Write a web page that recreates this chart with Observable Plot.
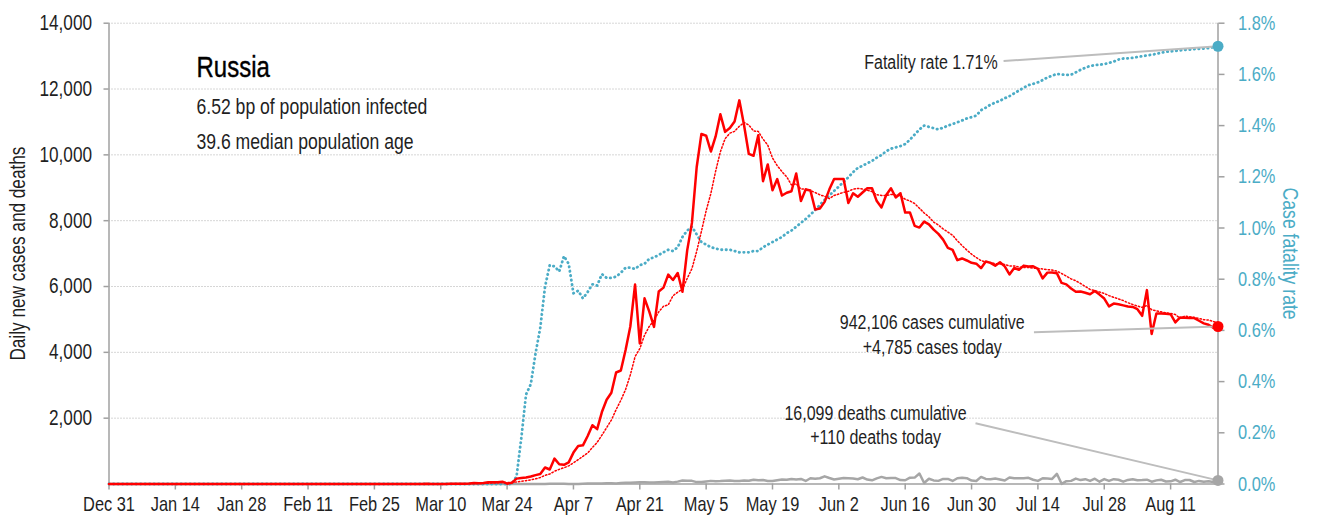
<!DOCTYPE html>
<html>
<head>
<meta charset="utf-8">
<script src="https://cdn.jsdelivr.net/npm/d3@7"></script>
<script src="https://cdn.jsdelivr.net/npm/@observablehq/plot@0.6"></script>
<style>
  html, body { margin: 0; padding: 0; background: #fff; }
  #chart svg { display: block; }
</style>
</head>
<body>
<div id="chart"></div>
<script>
// ---------- data (daily, starting 2019-12-31) ----------
const startDate = "2019-12-31";
const endDate = "2020-08-21";

const cases = [
  0,0,0,0,0,0,0,0,0,0, 0,0,0,0,0,0,0,0,0,0, 0,0,0,0,0,0,0,0,0,0,
  0,0,2,0,0,0,0,0,0,0, 0,0,0,0,0,0,0,0,0,0, 0,0,0,0,0,0,0,0,0,0, 0,
  0,0,1,0,0,1,6,0,3,0,
  3,8,6,6,11,18,30,21,33,52,
  54,53,71,10,40,
  163,182,196,228,270,302,501,440,771,601,
  582,658,954,1154,1175,1459,1786,1667,2186,2558,
  2774,3388,3448,4070,4785,6060,4268,
  5642,5236,4774,5849,5966,6361,6198,6411,5841,7099,
  7933,9623,10633,10581,10102,10559,11231,10699,10817,11012,
  11656,10899,10028,9974,10598,9200,9709,8926,9263,8764,
  8849,8894,9434,8599,8946,8915,8338,8371,8572,8952,
  9268,9268,9268,8536,8831,8726,8855,8984,8985,8595,
  8404,8779,8987,8706,8835,8246,8248,7843,7790,7972,
  7889,7728,7600,7425,7176,7113,6800,6852,6791,6719,
  6693,6556,6760,6718,6632,6736,6611,6368,6562,6509,
  6635,6611,6615,6537,6248,6422,6428,6406,6109,6065,
  5940,5842,5848,5811,5765,5862,5754,5635,5395,5482,
  5462,5427,5394,5380,5310,5110,5890,4560,5180,5180,
  5170,5160,4910,5060,5050,5040,5040,4960,4880,4840,
  4750,4785
];

const deaths = [
  0,0,0,0,0,0,0,0,0,0, 0,0,0,0,0,0,0,0,0,0, 0,0,0,0,0,0,0,0,0,0, 0,0,0,0,0,0,0,0,0,0,
  0,0,0,0,0,0,0,0,0,0, 0,0,0,0,0,0,0,0,0,0, 0,0,0,0,0,0,0,0,0,0, 0,0,0,0,0,0,0,0,0,0,
  1, 0,0,0,0,0,
  1,1,1,0,1, 3,2,8,4,4, 4,2,2,2,11, 13,13,18,12,22, 24,18,28,36,41,
  48,51,51,45,42, 50,60,66,47,72, 108,101,96,57,58, 76,95,86,88,98, 104,88,94,107,96,
  128,113,119,94,91, 115,135,127,150,139, 153,92,174,161,174, 232,181,138,162,182,
  178,169,144,197,134, 112,171,216,174,183, 181,119,113,193,194, 320,30,161,109,95,
  153,154,92,176,188, 176,104,93,216,154, 147,168,135,104,198, 173,175,174,188,130,
  95,175,165,154,310, 5,85,95,165,119, 147,95,161,70,150, 95,147,129,70,124,
  144,114,119,130,70, 110,129,77,80,130, 60,118,121,60,94, 68,85,60,110
];

// case fatality rate, percent
const cfr = [
  0,0,0,0,0,0,0,0,0,0, 0,0,0,0,0,0,0,0,0,0, 0,0,0,0,0,0,0,0,0,0, 0,0,0,0,0,0,0,0,0,0,
  0,0,0,0,0,0,0,0,0,0, 0,0,0,0,0,0,0,0,0,0, 0,0,0,0,0,0,0,0,0,0, 0,0,0,0,0,0,0,0,0,0,
  0,0,0,0,0,0,
  0.03,0.18,0.35,0.39,0.51,0.61,0.77,0.855,0.85,0.83,
  0.89,0.86,0.745,0.755,0.725,0.75,0.78,0.775,0.82,0.805,
  0.805,0.81,0.825,0.845,0.845,0.84,0.855,0.86,0.88,0.885,
  0.895,0.905,0.915,0.91,0.925,0.965,0.99,1.005,0.975,0.945,
  0.935,0.925,0.92,0.915,0.915,0.915,0.91,0.905,0.905,0.905,
  0.91,0.91,0.925,0.935,0.945,0.955,0.965,0.98,0.99,1.005,
  1.02,1.035,1.052,1.07,1.09,1.11,1.127,1.145,1.162,1.18,
  1.198,1.218,1.235,1.243,1.253,1.262,1.275,1.285,1.3,1.31,
  1.315,1.32,1.328,1.345,1.365,1.385,1.4,1.395,1.39,1.385,
  1.392,1.4,1.406,1.413,1.42,1.428,1.433,1.439,1.46,1.47,
  1.482,1.49,1.497,1.507,1.515,1.526,1.537,1.548,1.558,1.563,
  1.569,1.578,1.588,1.595,1.602,1.6,1.598,1.599,1.608,1.618,
  1.626,1.633,1.636,1.638,1.64,1.645,1.65,1.658,1.662,1.663,
  1.665,1.668,1.671,1.674,1.677,1.68,1.685,1.688,1.69,1.692,
  1.694,1.696,1.697,1.699,1.7,1.701,1.703,1.706,1.71
];

const totalCases = 942106;
const totalDeaths = 16099;

const xTicks = ["2019-12-31","2020-01-14","2020-01-28","2020-02-11","2020-02-25","2020-03-10",
  "2020-03-24","2020-04-07","2020-04-21","2020-05-05","2020-05-19","2020-06-02","2020-06-16",
  "2020-06-30","2020-07-14","2020-07-28","2020-08-11"];
const yTicks = [2000,4000,6000,8000,10000,12000,14000];
const cfrTicks = [0,0.2,0.4,0.6,0.8,1.0,1.2,1.4,1.6,1.8];

const title = "Russia";
const subtitleLines = ["6.52 bp of population infected", "39.6 median population age"];

// ---------- build ----------
const FONT = '"Liberation Sans", Arial, sans-serif';
const SQUEEZE = 0.8; // narrow the glyphs to mimic a condensed face
const BLUE = "#4bacc6";
const GREY = "#a6a6a6";
const AXIS = "#a0a0a0";
const TEXT = "#1f1f1f";
const K = 14000 / 1.8; // percent -> left scale units

const t0 = new Date(startDate);
const t1 = new Date(endDate);
const data = cases.map((c, i) => ({
  date: d3.utcDay.offset(t0, i),
  cases: c,
  deaths: deaths[i],
  cfr: cfr[i]
}));
const last = data[data.length - 1];
const fmt = d3.format(",");

const fatalityNote = [{date: new Date("2020-07-05T12:00Z"), value: 12806,
  text: `Fatality rate ${last.cfr.toFixed(2)}%`}];
const countNotes = [
  {date: new Date("2020-06-21T17:00Z"), value: 4566,
   text: `${fmt(totalCases)} cases cumulative\n+${fmt(last.cases)} cases today`},
  {date: new Date("2020-06-09T18:00Z"), value: 1808,
   text: `${fmt(totalDeaths)} deaths cumulative\n+${fmt(last.deaths)} deaths today`}
];
const leaders = [
  {x1: new Date("2020-07-06T18:00Z"), y1: 12852, x2: last.date, y2: last.cfr * K},
  {x1: new Date("2020-07-13T04:00Z"), y1: 4612, x2: last.date, y2: last.cases},
  {x1: new Date("2020-06-30T20:00Z"), y1: 1847, x2: last.date, y2: last.deaths}
];

const chart = Plot.plot({
  width: 1317,
  height: 525,
  marginLeft: 108.5,
  marginRight: 99.5,
  marginTop: 22.7,
  marginBottom: 41.5,
  x: {type: "utc", domain: [t0, t1]},
  y: {domain: [0, 14000]},
  style: {fontFamily: FONT, fontSize: "20px", color: TEXT, background: "#fff"},
  marks: [
    Plot.ruleY(yTicks, {stroke: "#adadad", strokeWidth: 1, strokeDasharray: "1,2"}),
    Plot.ruleX([t0], {stroke: AXIS, strokeWidth: 1.5}),
    Plot.ruleX([t1], {stroke: AXIS, strokeWidth: 1.5}),
    Plot.ruleY([0], {stroke: AXIS, strokeWidth: 1.5}),
    Plot.axisY(yTicks, {anchor: "left", tickFormat: fmt, tickSize: 5, tickPadding: 12,
      fontSize: 21.5, fill: TEXT, stroke: AXIS, strokeWidth: 1.5, label: null}),
    Plot.axisY(cfrTicks.map(v => v * K), {anchor: "right", tickFormat: v => (v / K).toFixed(1) + "%",
      tickSize: 6, tickPadding: 14, fontSize: 20.5, fill: BLUE, stroke: AXIS, strokeWidth: 1.5, label: null}),
    Plot.axisX(xTicks.map(d => new Date(d)), {tickFormat: d3.utcFormat("%b %-d"), tickSize: 6, tickPadding: 6,
      fontSize: 20.5, fill: TEXT, stroke: AXIS, strokeWidth: 1.5, label: null}),
    Plot.text(["Daily new cases and deaths"], {frameAnchor: "left", dx: -90.5, rotate: -90,
      textAnchor: "middle", lineAnchor: "middle", fontSize: 21.5, fill: TEXT}),
    Plot.text(["Case fatality rate"], {frameAnchor: "right", dx: 72.5, rotate: 90,
      textAnchor: "middle", lineAnchor: "middle", fontSize: 22, fill: BLUE}),
    Plot.lineY(data, {x: "date", y: "deaths", stroke: GREY, strokeWidth: 2.5}),
    Plot.lineY(data, {x: "date", y: d => d.cfr * K, stroke: BLUE, strokeWidth: 2.8,
      strokeDasharray: "0.4,4.1", strokeLinecap: "round"}),
    Plot.lineY(data, Plot.windowY({k: 7, anchor: "end", reduce: "mean"},
      {x: "date", y: "cases", stroke: "#ff0000", strokeWidth: 1.5, strokeDasharray: "1.4,2.1"})),
    Plot.lineY(data, {x: "date", y: "cases", stroke: "#ff0000", strokeWidth: 2.5}),
    Plot.link(leaders, {x1: "x1", y1: "y1", x2: "x2", y2: "y2", stroke: "#bdbdbd", strokeWidth: 2}),
    Plot.dot([last], {x: "date", y: d => d.cfr * K, r: 5.5, fill: BLUE}),
    Plot.dot([last], {x: "date", y: "cases", r: 5.5, fill: "#ff0000"}),
    Plot.dot([last], {x: "date", y: "deaths", r: 5.5, fill: GREY}),
    Plot.text(fatalityNote, {x: "date", y: "value", text: "text", textAnchor: "end", lineAnchor: "middle",
      fontSize: 20, fill: TEXT}),
    Plot.text(countNotes, {x: "date", y: "value", text: "text", textAnchor: "middle", lineAnchor: "middle",
      lineHeight: 1.22, fontSize: 20, fill: TEXT}),
    Plot.text([title], {frameAnchor: "top-left", dx: 87.5, dy: 43.8, lineAnchor: "middle", textAnchor: "start",
      fontSize: 30, fill: "#000", stroke: "#000", strokeWidth: 0.4}),
    Plot.text(subtitleLines, {frameAnchor: "top-left", dx: 87.5, dy: 84, lineAnchor: "middle",
      textAnchor: "start", fontSize: 22, fill: TEXT, filter: (d, i) => i === 0}),
    Plot.text(subtitleLines, {frameAnchor: "top-left", dx: 87.5, dy: 119, lineAnchor: "middle",
      textAnchor: "start", fontSize: 22, fill: TEXT, filter: (d, i) => i === 1})
  ]
});

document.getElementById("chart").appendChild(chart);

// condense every text horizontally around its own anchor point (keeps them as real text)
chart.querySelectorAll("text").forEach(t => {
  let xa = t.getAttribute("x");
  if (xa == null) {
    const sp = t.querySelector("tspan[x]");
    xa = sp ? sp.getAttribute("x") : 0;
  }
  xa = parseFloat(xa) || 0;
  const tr = t.getAttribute("transform") || "";
  t.setAttribute("transform", `${tr} translate(${xa},0) scale(${SQUEEZE},1) translate(${-xa},0)`.trim());
});
</script>
</body>
</html>
